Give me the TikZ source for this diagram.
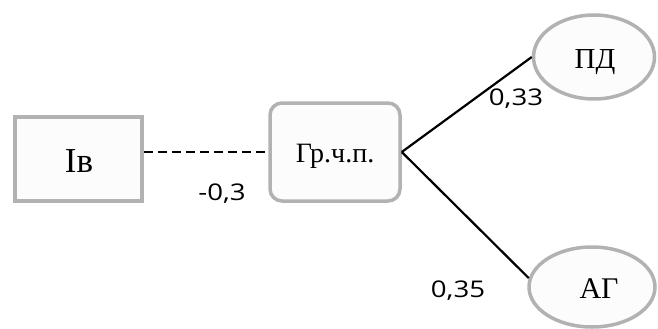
\documentclass[tikz,border=0pt]{standalone}
\usepackage{fontspec}
\setmainfont{Liberation Serif}
\newfontfamily\numfont[FakeStretch=1.2]{Open Sans}
\usetikzlibrary{shapes.geometric}
\begin{document}
\begin{tikzpicture}[x=1pt,y=-1pt,
  shapebox/.style={draw=black!30,line width=3.5pt,fill=black!1,inner sep=0pt},
  rbox/.style={shapebox,rectangle,minimum width=127pt,minimum height=84pt},
  rrbox/.style={shapebox,rectangle,rounded corners=12pt,minimum width=130pt,minimum height=98pt},
  ell/.style={shapebox,ellipse,minimum width=121pt,minimum height=84pt},
  conn/.style={draw=black,line width=2.2pt},
  num/.style={font=\numfont\fontsize{23}{25}\selectfont,inner sep=0pt,anchor=base}]
\useasboundingbox (0,0) rectangle (658,329);
\node[rbox] (iv) at (78.5,159) {};
\node[font=\fontsize{35}{38}\selectfont,anchor=base,inner sep=0pt] (ivt) at (79,172) {Iв};
\node[rrbox] (gr) at (335,152) {};
\node[font=\fontsize{28}{30}\selectfont,anchor=base,inner sep=0pt] (grt) at (335,162) {Гр.ч.п.};
\node[ell] (pd) at (594,57) {};
\node[font=\fontsize{29}{31}\selectfont,anchor=base,inner sep=0pt] (pdt) at (595,68) {ПД};
\node[ell,minimum width=126pt,minimum height=80pt] (ag) at (592,287) {};
\node[font=\fontsize{30}{32}\selectfont,anchor=base,inner sep=0pt] (agt) at (599,298) {АГ};
\draw[conn,dash pattern=on 9pt off 5pt] (iv.east |- gr.west) -- (gr.west);
\draw[conn] (gr.east) -- (pd.west);
\draw[conn] (gr.east) -- (ag.172);
\node[num] (l1) at (222,200) {-0,3};
\node[num] (l2) at (516,105) {0,33};
\node[num] (l3) at (458,297) {0,35};
\end{tikzpicture}
\end{document}
